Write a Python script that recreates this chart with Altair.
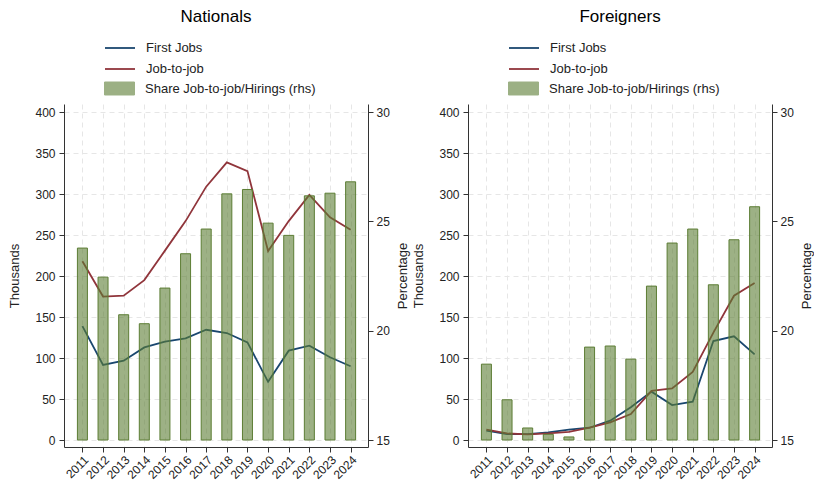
import altair as alt
import pandas as pd

years = list(range(2011, 2025))

nat_first = [139, 91.5, 96.7, 113, 120, 124, 134.5, 130.5, 119, 71, 109, 115, 101, 90]
nat_j2j = [218, 175, 176, 195, 231, 267, 309, 338.6, 328, 230.5, 267, 299, 271.6, 256.5]
nat_share = [23.78, 22.45, 20.73, 20.32, 21.95, 23.52, 24.65, 26.26, 26.46, 24.92, 24.36, 26.17, 26.29, 26.81]

for_first = [11.4, 7.3, 7.3, 9.3, 12.6, 15, 23.6, 40, 59, 42.7, 46.7, 120.7, 126.5, 104.5]
for_j2j = [12.6, 8, 7, 8, 10, 15, 21.5, 31.7, 60, 63, 83, 131, 176, 191.5]
for_share = [18.47, 16.84, 15.55, 15.26, 15.14, 19.25, 19.30, 18.70, 22.04, 24.01, 24.65, 22.10, 24.16, 25.67]

series_names = ["First Jobs", "Job-to-job"]
share_name = "Share Job-to-job/Hirings (rhs)"
left_ticks = list(range(0, 401, 50))
right_ticks = [15, 20, 25, 30]

LINE_COLORS = ["#1a476f", "#90353b"]
BAR_COLOR = "#5c7d34"
FONT = "Liberation Sans"
W = 304


def panel(title, first, j2j, share):
    lines_df = pd.DataFrame({
        "year": years * 2,
        "value": first + j2j,
        "series": [series_names[0]] * len(years) + [series_names[1]] * len(years),
    })
    bars_df = pd.DataFrame({"year": years, "share": share, "s": [share_name] * len(years)})

    xscale = alt.Scale(domain=[2010.35, 2024.6], nice=False, zero=False)
    xaxis = alt.Axis(values=years, format="d", labelAngle=-45, title=None, grid=True,
                     gridDash=[5, 4], gridColor="#e6e6e6", tickSize=5, labelPadding=2,
                     labelOverlap=False, labelBound=False, labelFlush=False)

    lines = alt.Chart(lines_df).mark_line(strokeWidth=1.8).encode(
        x=alt.X("year:Q", scale=xscale, axis=xaxis),
        y=alt.Y("value:Q", scale=alt.Scale(domain=[-8.5, 409.8], nice=False, zero=False),
                axis=alt.Axis(values=left_ticks, title="Thousands", grid=True, gridDash=[5, 4],
                              gridColor="#e6e6e6", tickSize=5, labelPadding=4, titlePadding=13)),
        color=alt.Color("series:N", scale=alt.Scale(domain=series_names, range=LINE_COLORS),
                        legend=alt.Legend(orient="none", legendX=49, legendY=-63, title=None,
                                          symbolType="M-2.5,0H2.5", symbolSize=144,
                                          symbolStrokeWidth=1.8, labelOffset=19,
                                          labelFontSize=13, labelFont=FONT, rowPadding=7,
                                          labelLimit=0, padding=0)),
    )
    bars = alt.Chart(bars_df).mark_bar(size=10, fillOpacity=0.6, stroke=BAR_COLOR, strokeWidth=1).encode(
        x=alt.X("year:Q", scale=xscale, axis=xaxis),
        y=alt.Y("share:Q", scale=alt.Scale(domain=[14.68, 30.37], nice=False, zero=False),
                axis=alt.Axis(orient="right", values=right_ticks, title="Percentage", grid=False,
                              tickSize=5, labelPadding=3, titleAngle=270, titlePadding=20)),
        y2=alt.datum(15),
        fill=alt.Fill("s:N", scale=alt.Scale(domain=[share_name], range=[BAR_COLOR]),
                      legend=alt.Legend(orient="none", legendX=49, legendY=-22, title=None,
                                        symbolType="M-2.5,-1.083H2.5V1.083H-2.5Z", symbolSize=144,
                                        symbolStrokeColor=BAR_COLOR, symbolStrokeWidth=1,
                                        symbolOpacity=0.6, labelOffset=19, labelLimit=0,
                                        labelFontSize=13, labelFont=FONT, padding=0)),
    )
    return alt.layer(lines, bars).resolve_scale(y="independent").properties(
        width=W, height=343,
        title=alt.TitleParams(title, fontSize=17, fontWeight="normal", font=FONT,
                              anchor="middle", color="#000000", offset=15),
    )


chart = alt.hconcat(
    panel("Nationals", nat_first, nat_j2j, nat_share),
    panel("Foreigners", for_first, for_j2j, for_share),
    spacing=2,
).resolve_legend(color="independent", fill="independent").configure_view(
    stroke=None
).configure_axis(
    labelFont=FONT, labelFontSize=12, labelColor="#222222", titleFont=FONT, titleFontSize=13,
    titleFontWeight="normal", titleColor="#222222", domainColor="#333333", tickColor="#333333",
).configure_legend(labelColor="#222222").properties(padding=0)

chart.save("out.html", embed_options={"renderer": "svg", "actions": False})
